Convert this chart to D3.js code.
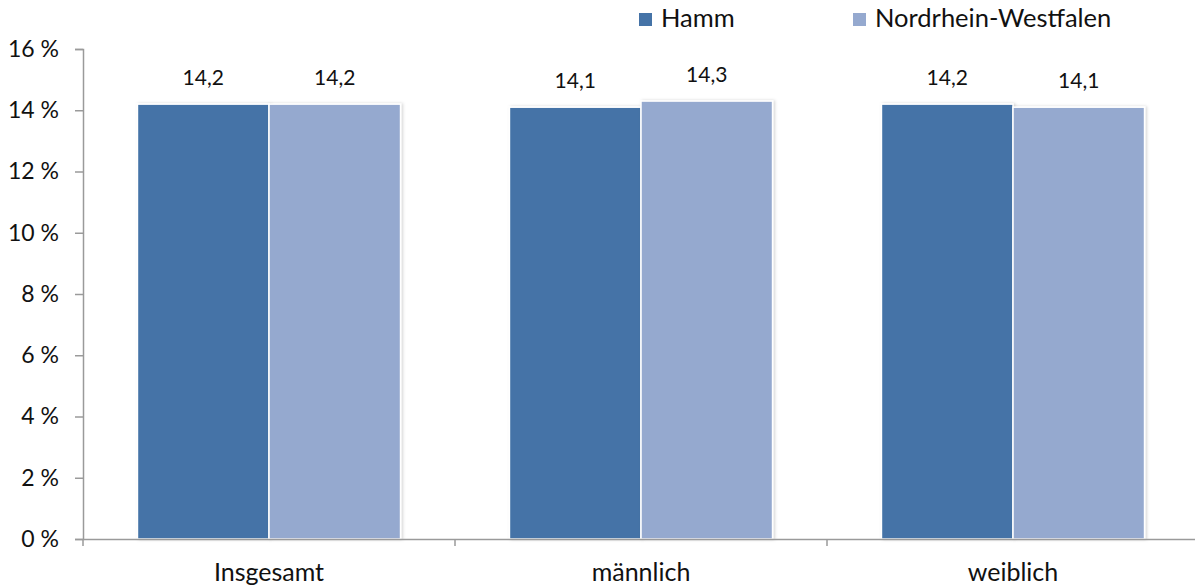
<!DOCTYPE html>
<html>
<head>
<meta charset="utf-8">
<script src="https://cdn.jsdelivr.net/npm/d3@7"></script>
<style>
  body { margin: 0; background: #fff; }
  text { font-family: Lato, "Open Sans", sans-serif; fill: #111; }
</style>
</head>
<body>
<div id="viz"></div>
<script>

var categories = ["Insgesamt", "männlich", "weiblich"];
var series = ["Hamm", "Nordrhein-Westfalen"];
var hamm = [14.2, 14.1, 14.2];
var nrw = [14.2, 14.3, 14.1];
var yTicks = [0, 2, 4, 6, 8, 10, 12, 14, 16];
var colors = ["#4573a7", "#95a9cf"];

var width = 1195, height = 586;

var svg = d3.select("#viz")
	.append("svg")
	.attr("width", width)
	.attr("height", height);

// soft shadow like the office chart
var defs = svg.append("defs");
var f = defs.append("filter").attr("id", "shadow")
	.attr("x", "-5%").attr("y", "-5%").attr("width", "115%").attr("height", "115%");
f.append("feDropShadow")
	.attr("dx", 1.5).attr("dy", 0).attr("stdDeviation", 1.5)
	.attr("flood-color", "#000").attr("flood-opacity", 0.18);

var y = d3.scaleLinear().domain([0, 16]).range([539, 49]);

var x = d3.scaleBand().domain(categories).range([83, 1199]).padding(0);
var xs = d3.scaleBand().domain(series).range([0, x.bandwidth()])
	.paddingInner(0).paddingOuter(0.414);

var rows = categories.map((c, i) => ({cat: c, vals: [hamm[i], nrw[i]]}));

// y axis
var yAxis = svg.append("g")
	.attr("transform", "translate(83,0)")
	.call(d3.axisLeft(y).tickValues(yTicks).tickSize(8).tickPadding(16)
		.tickFormat(d => d + " %"));
yAxis.select(".domain").attr("stroke", "#9a9a9a").attr("stroke-width", 1.5);
yAxis.selectAll(".tick line").attr("stroke", "#9a9a9a").attr("stroke-width", 1.5);
yAxis.selectAll(".tick text")
	.style("font-family", "Lato, sans-serif")
	.style("font-size", "23px")
	.attr("fill", "#111");

// bars
var groups = svg.selectAll("g.cat")
	.data(rows)
	.enter()
	.append("g")
	.attr("class", "cat")
	.attr("transform", d => "translate(" + x(d.cat) + ",0)");

groups.selectAll("rect")
	.data(d => d.vals.map((v, j) => ({s: series[j], v: v, j: j})))
	.enter()
	.append("rect")
	.attr("x", d => xs(d.s))
	.attr("width", xs.bandwidth())
	.attr("y", d => y(d.v))
	.attr("height", d => y(0) - y(d.v))
	.attr("fill", d => colors[d.j])
	.attr("stroke", "#fff")
	.attr("stroke-width", 1.5)
	.attr("filter", "url(#shadow)");

groups.selectAll("text.val")
	.data(d => d.vals.map((v, j) => ({s: series[j], v: v, j: j})))
	.enter()
	.append("text")
	.attr("class", "val")
	.attr("x", d => xs(d.s) + xs.bandwidth() / 2)
	.attr("y", d => y(d.v) - 19)
	.attr("text-anchor", "middle")
	.style("font-size", "21px")
	.text(d => d.v.toFixed(1).replace(".", ","));

// x axis
var xAxis = svg.append("g")
	.attr("transform", "translate(0,539)")
	.call(d3.axisBottom(x).tickSize(0).tickPadding(0));
xAxis.select(".domain").attr("stroke", "#9a9a9a").attr("stroke-width", 1.5);
xAxis.selectAll(".tick line").remove();
xAxis.selectAll(".tick text")
	.attr("y", 42)
	.attr("dy", 0)
	.style("font-family", "Lato, sans-serif")
	.style("font-size", "25px")
	.attr("fill", "#111");

// category separators
svg.selectAll("line.sep")
	.data(categories)
	.enter()
	.append("line")
	.attr("class", "sep")
	.attr("x1", d => x(d)).attr("x2", d => x(d))
	.attr("y1", 539).attr("y2", 546)
	.attr("stroke", "#9a9a9a").attr("stroke-width", 1.5);

// legend
var legX = [639, 853];
var leg = svg.selectAll("g.leg")
	.data(series)
	.enter()
	.append("g")
	.attr("class", "leg")
	.attr("transform", (d, i) => "translate(" + legX[i] + ",13)");
leg.append("rect")
	.attr("width", 13).attr("height", 13)
	.attr("fill", (d, i) => colors[i]);
leg.append("text")
	.attr("x", 22).attr("y", 14)
	.style("font-size", "25.5px")
	.text(d => d);

</script>
</body>
</html>
